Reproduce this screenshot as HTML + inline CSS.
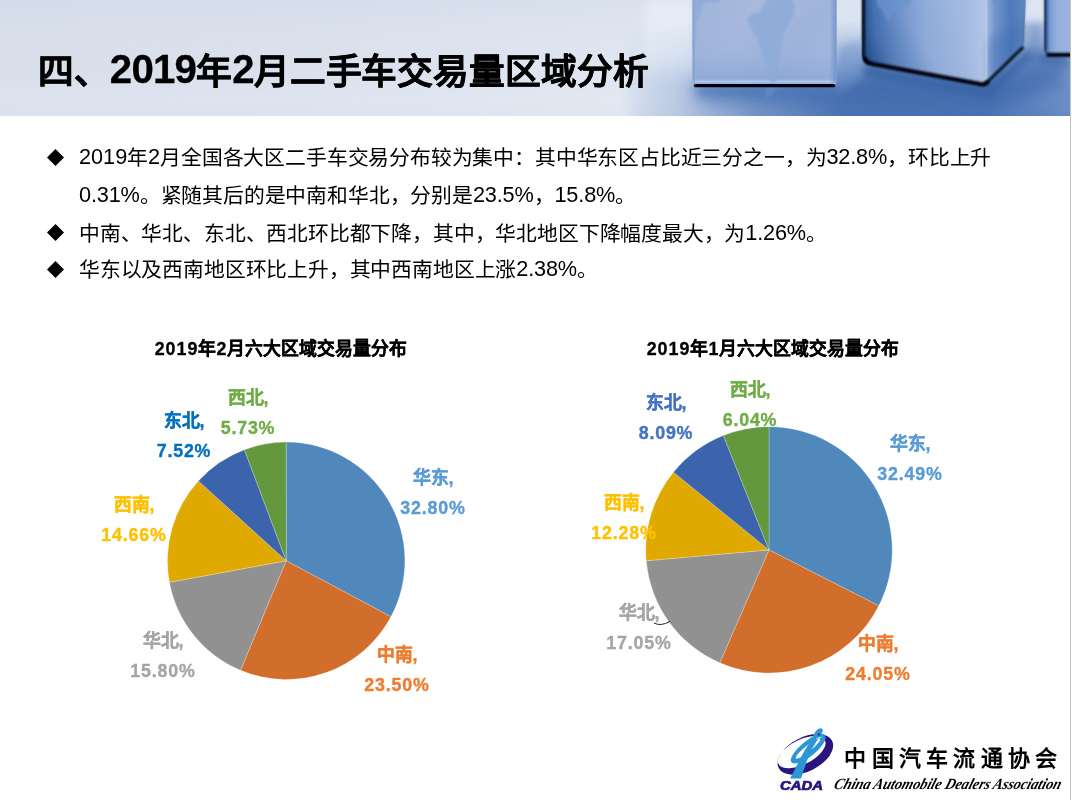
<!DOCTYPE html>
<html lang="zh-CN">
<head>
<meta charset="utf-8">
<title>四、2019年2月二手车交易量区域分析</title>
<style>
html,body{margin:0;padding:0;background:#fff;}
body{width:1072px;height:800px;position:relative;overflow:hidden;font-family:"Liberation Sans",sans-serif;color:#000;}
.abs{position:absolute;white-space:nowrap;}
.g{will-change:transform;}
#edge{left:1070px;top:0;width:1px;height:800px;background:#c3c3c3;}
#hdr{left:0;top:0;width:1070px;height:116px;overflow:hidden;}
#title{left:37.5px;top:48px;font-size:35.67px;font-weight:bold;line-height:48px;letter-spacing:-0.1px;-webkit-text-stroke:0.55px #000;}
#title b{font-size:40.2px;line-height:0;letter-spacing:-0.75px;font-weight:bold;-webkit-text-stroke:0.3px #000;position:relative;top:-1.2px;}
.bl{left:79px;font-size:20.8px;line-height:30px;letter-spacing:-0.18px;}
.bl i{font-style:normal;font-size:21.7px;line-height:0;position:relative;top:-0.7px;letter-spacing:-0.15px;}
.bl i.d{letter-spacing:0px;}
.dm{left:47px;width:17px;height:17px;}
.ct{font-size:17.83px;font-weight:bold;line-height:24px;text-align:center;width:300px;-webkit-text-stroke:0.3px #000;}
.ct b{letter-spacing:1px;}
.lb{font-size:17.83px;font-weight:bold;line-height:30.3px;text-align:center;width:140px;margin-top:0.5px;-webkit-text-stroke:0.35px currentColor;}
.lb b{letter-spacing:0.8px;}
</style>
</head>
<body>
<div id="hdr" class="abs">
<svg width="1070" height="116" viewBox="0 0 1070 115" preserveAspectRatio="none" style="display:block">
<defs>
<linearGradient id="bg" x1="0" y1="0" x2="1070" y2="0" gradientUnits="userSpaceOnUse">
<stop offset="0" stop-color="#d8dfeb"/><stop offset="0.3" stop-color="#dae1ed"/><stop offset="0.6" stop-color="#dfe6f1"/><stop offset="0.645" stop-color="#e3e9f4"/><stop offset="1" stop-color="#dde5f2"/>
</linearGradient>
<linearGradient id="bgv" x1="0" y1="0" x2="0" y2="115" gradientUnits="userSpaceOnUse">
<stop offset="0" stop-color="#cfd6e6" stop-opacity="0.35"/><stop offset="0.55" stop-color="#dfe5f0" stop-opacity="0"/><stop offset="0.85" stop-color="#ffffff" stop-opacity="0.12"/><stop offset="1" stop-color="#ffffff" stop-opacity="0.05"/>
</linearGradient>
<linearGradient id="flh" x1="620" y1="0" x2="1070" y2="0" gradientUnits="userSpaceOnUse">
<stop offset="0" stop-color="#4b74b3" stop-opacity="0"/><stop offset="0.12" stop-color="#6c8ec5" stop-opacity="0.35"/><stop offset="0.3" stop-color="#5a80bc" stop-opacity="0.8"/><stop offset="0.5" stop-color="#4871b1" stop-opacity="1"/><stop offset="0.8" stop-color="#4b74b4" stop-opacity="1"/><stop offset="1" stop-color="#668ac4" stop-opacity="1"/>
</linearGradient>
<linearGradient id="flv" x1="0" y1="20" x2="0" y2="115" gradientUnits="userSpaceOnUse">
<stop offset="0" stop-color="#fff" stop-opacity="0"/><stop offset="0.35" stop-color="#fff" stop-opacity="0.35"/><stop offset="0.7" stop-color="#fff" stop-opacity="0.9"/><stop offset="1" stop-color="#fff" stop-opacity="1"/>
</linearGradient>
<mask id="flm"><rect x="600" y="0" width="470" height="115" fill="url(#flv)"/></mask>
<linearGradient id="c1" x1="692" y1="0" x2="836" y2="83" gradientUnits="userSpaceOnUse">
<stop offset="0" stop-color="#a0b4da"/><stop offset="0.35" stop-color="#a8badd"/><stop offset="0.7" stop-color="#a1b5db"/><stop offset="1" stop-color="#abbee0"/>
</linearGradient>
<linearGradient id="c1v" x1="0" y1="0" x2="0" y2="84" gradientUnits="userSpaceOnUse">
<stop offset="0" stop-color="#86a5d6" stop-opacity="0"/><stop offset="0.6" stop-color="#86a5d6" stop-opacity="0.15"/><stop offset="0.93" stop-color="#7d9fd4" stop-opacity="0.55"/><stop offset="0.96" stop-color="#b8cbea" stop-opacity="0.8"/><stop offset="1" stop-color="#7d9fd4" stop-opacity="0.7"/>
</linearGradient>
<linearGradient id="c1r" x1="829" y1="0" x2="836.5" y2="0" gradientUnits="userSpaceOnUse"><stop offset="0" stop-color="#7294cc" stop-opacity="0"/><stop offset="1" stop-color="#6a8ec9" stop-opacity="0.85"/></linearGradient>
<linearGradient id="c2a" x1="862" y1="0" x2="988" y2="0" gradientUnits="userSpaceOnUse">
<stop offset="0" stop-color="#0e2044"/><stop offset="0.03" stop-color="#2c5596"/><stop offset="0.1" stop-color="#4c78b9"/><stop offset="0.28" stop-color="#7496cd"/><stop offset="0.5" stop-color="#93aedb"/><stop offset="0.8" stop-color="#a3b9e0"/><stop offset="1" stop-color="#b4c7e8"/>
</linearGradient>
<linearGradient id="c2av" x1="965" y1="25" x2="880" y2="78" gradientUnits="userSpaceOnUse">
<stop offset="0" stop-color="#3f6db3" stop-opacity="0"/><stop offset="0.45" stop-color="#3f6db3" stop-opacity="0.08"/><stop offset="0.8" stop-color="#35629f" stop-opacity="0.45"/><stop offset="1" stop-color="#214784" stop-opacity="0.75"/>
</linearGradient>
<linearGradient id="c2b" x1="987" y1="0" x2="1026" y2="0" gradientUnits="userSpaceOnUse">
<stop offset="0" stop-color="#9bb5dd"/><stop offset="0.2" stop-color="#7396cc"/><stop offset="0.6" stop-color="#4f7aba"/><stop offset="0.88" stop-color="#5a84c1"/><stop offset="1" stop-color="#86a5d6"/>
</linearGradient>
<linearGradient id="c3" x1="1044" y1="0" x2="1070" y2="0" gradientUnits="userSpaceOnUse">
<stop offset="0" stop-color="#1c3a6c"/><stop offset="0.1" stop-color="#3e6cb0"/><stop offset="0.25" stop-color="#7d9ed3"/><stop offset="0.5" stop-color="#94afdb"/><stop offset="1" stop-color="#9bb4dd"/>
</linearGradient>
<filter id="b1" filterUnits="userSpaceOnUse" x="-40" y="-40" width="1150" height="200"><feGaussianBlur stdDeviation="0.9"/></filter>
<filter id="b05" filterUnits="userSpaceOnUse" x="-40" y="-40" width="1150" height="200"><feGaussianBlur stdDeviation="0.55"/></filter>
<filter id="b3" filterUnits="userSpaceOnUse" x="-40" y="-40" width="1150" height="200"><feGaussianBlur stdDeviation="4"/></filter>
<filter id="b8" filterUnits="userSpaceOnUse" x="-40" y="-40" width="1150" height="200"><feGaussianBlur stdDeviation="9"/></filter>
</defs>
<rect x="0" y="0" width="1070" height="115" fill="url(#bg)"/>
<rect x="0" y="0" width="1070" height="115" fill="url(#bgv)"/>
<!-- light vertical reflections behind cube 1 -->
<rect x="645" y="0" width="46" height="70" fill="#eef3fb" opacity="0.55" filter="url(#b3)"/>
<rect x="838" y="-10" width="24" height="50" fill="#dbe4f3" opacity="0.9" filter="url(#b3)"/>
<rect x="1028" y="-12" width="15" height="40" fill="#dde6f4" opacity="0.9" filter="url(#b3)"/>
<!-- floor -->
<rect x="1026" y="22" width="19" height="40" fill="#5079b8" opacity="0.55" filter="url(#b3)"/>
<g mask="url(#flm)"><rect x="600" y="0" width="470" height="115" fill="url(#flh)"/></g>
<!-- floor shadows -->
<g filter="url(#b8)" opacity="0.75">
<polygon points="690,86 840,86 870,70 985,92 1030,52 1070,60 1070,80 990,112 850,104 700,100" fill="#3c68aa"/>
</g>
<g filter="url(#b3)" opacity="0.8">
<polygon points="838,46 862,40 866,66 845,90 836,88" fill="#6c92cb" opacity="0.7"/>
<polygon points="864,62 984,86 1026,48 1034,56 990,98 862,76" fill="#315ea3"/>
<polygon points="1040,52 1070,56 1070,66 1040,62" fill="#315ea3"/>
<polygon points="694,86 836,86 832,94 700,94" fill="#4774b7"/>
</g>
<!-- cube 1 -->
<path d="M692.5 -2H836.5V80.5Q836.5 84 833 84H696Q692.5 84 692.5 80.5Z" fill="url(#c1)"/>
<path d="M692.5 -2H836.5V80.5Q836.5 84 833 84H696Q692.5 84 692.5 80.5Z" fill="url(#c1v)"/>
<rect x="692.5" y="0" width="2.5" height="82" fill="#86a3d4" opacity="0.8"/>
<rect x="829" y="0" width="7.5" height="82" fill="url(#c1r)"/>
<!-- continents cube 1 -->
<g fill="#8eabd8" opacity="0.85" filter="url(#b1)">
<path d="M747 19L752 14 760 12 764 4 768 -2 792 -2 795 6 793 16 789 24 784 33 782 42 781 52 779 62 779 72 777 80 772 84 769 76 768 68 764 60 761 50 758 40 753 32 750 26Z"/>
<path d="M693 0L699 -2 722 -2 718 3 708 2 702 6 700 14 697 22 696 34 693 50Z"/>
</g>
<path d="M766 86L778 86 774 92 768 97 765 96Z" fill="#6a90c9" opacity="0.6" filter="url(#b1)"/>
<!-- cube1 bottom shadow -->
<path d="M695.5 84.9H833.5" stroke="#02060f" stroke-width="3.4" stroke-linecap="round" filter="url(#b05)" fill="none"/>
<!-- cube 2 -->
<path d="M862.5 -2H987.5V80L983 83.5 869 63Q862.5 61 862.5 55Z" fill="url(#c2a)"/>
<path d="M862.5 -2H987.5V80L983 83.5 869 63Q862.5 61 862.5 55Z" fill="url(#c2av)"/>
<path d="M987 -2H1026L1023.5 46 987.5 81Z" fill="url(#c2b)"/>
<path d="M987 40L1023.5 20 1023.5 46 987.5 81Z" fill="#3d6bb0" opacity="0.35" filter="url(#b3)"/>
<g fill="#6b93cc" opacity="0.8" filter="url(#b1)">
<path d="M876 -2L912 -2 910 4 902 8 898 14 894 12 890 22 886 18 882 10 878 6Z"/>
<path d="M992 -2L998 -2 996 8 993 4Z"/>
</g>
<path d="M986.5 0V78" stroke="#b9cbea" stroke-width="1.6" opacity="0.7" fill="none"/>
<path d="M863.6 0V55Q864 60.5 869.5 62.5" stroke="#040a16" stroke-width="2.6" stroke-linecap="round" stroke-linejoin="round" filter="url(#b1)" fill="none"/>
<path d="M865 58.5Q866 62 870.5 63L982 83.6Q985 84 987.5 81.6" stroke="#02060f" stroke-width="4.2" stroke-linecap="round" stroke-linejoin="round" filter="url(#b1)" fill="none"/>
<path d="M986 82.5L1022.5 47.5" stroke="#050c1a" stroke-width="3" stroke-linecap="round" filter="url(#b1)" fill="none"/>
<path d="M863.2 -2V40" stroke="#0c1c3a" stroke-width="1.6" filter="url(#b1)" fill="none" opacity="0.7"/>
<path d="M1024.5 0L1023.6 44" stroke="#1d3b70" stroke-width="1.4" filter="url(#b1)" fill="none" opacity="0.5"/>
<!-- cube 3 -->
<path d="M1044.5 -2H1072V53.5H1048Q1044.5 53.5 1044.5 50Z" fill="url(#c3)"/>
<path d="M1046.5 54.4H1072" stroke="#02060f" stroke-width="4" filter="url(#b1)" fill="none"/>
<path d="M1045 -2V50" stroke="#0a1830" stroke-width="1.6" filter="url(#b1)" fill="none" opacity="0.8"/>
</svg>
</div>
<div id="edge" class="abs"></div>
<div id="title" class="abs g">四、<b>2019</b>年<b>2</b>月二手车交易量区域分析</div>

<svg class="abs dm" style="top:149px" viewBox="0 0 17 17"><path d="M8.5 0L17 8.5 8.5 17 0 8.5Z" fill="#000"/></svg>
<div class="abs bl g" style="top:143.3px"><i class="d">2019</i>年<i class="d">2</i>月全国各大区二手车交易分布较为集中：其中华东区占比近三分之一，为<i>32.8%</i>，环比上升</div>
<div class="abs bl g" style="top:181.0px"><i>0.31%</i>。紧随其后的是中南和华北，分别是<i>23.5%</i>，<i>15.8%</i>。</div>
<svg class="abs dm" style="top:224px" viewBox="0 0 17 17"><path d="M8.5 0L17 8.5 8.5 17 0 8.5Z" fill="#000"/></svg>
<div class="abs bl g" style="top:218.6px">中南、华北、东北、西北环比都下降，其中，华北地区下降幅度最大，为<i>1.26%</i>。</div>
<svg class="abs dm" style="top:261px" viewBox="0 0 17 17"><path d="M8.5 0L17 8.5 8.5 17 0 8.5Z" fill="#000"/></svg>
<div class="abs bl g" style="top:255.3px">华东以及西南地区环比上升，其中西南地区上涨<i>2.38%</i>。</div>

<div class="abs ct g" style="left:131px;top:337px"><b>2019</b>年<b>2</b>月六大区域交易量分布</div>
<div class="abs ct g" style="left:623px;top:337px"><b>2019</b>年<b>1</b>月六大区域交易量分布</div>

<svg class="abs" style="left:0;top:300px" width="1070" height="420" viewBox="0 300 1070 420">
<g id="pie1" stroke="#ffffff" stroke-opacity="0.38" stroke-width="0.6" stroke-linejoin="round">
<path d="M286.2 560.8L286.20 442.10A118.7 118.7 0 0 1 390.94 616.65Z" fill="#5088bb"/>
<path d="M286.2 560.8L390.94 616.65A118.7 118.7 0 0 1 240.47 670.34Z" fill="#d16e2b"/>
<path d="M286.2 560.8L240.47 670.34A118.7 118.7 0 0 1 169.47 582.36Z" fill="#919191"/>
<path d="M286.2 560.8L169.47 582.36A118.7 118.7 0 0 1 198.41 480.91Z" fill="#e0a900"/>
<path d="M286.2 560.8L198.41 480.91A118.7 118.7 0 0 1 244.39 449.71Z" fill="#3c64ac"/>
<path d="M286.2 560.8L244.39 449.71A118.7 118.7 0 0 1 286.20 442.10Z" fill="#63983e"/>
</g>
<g id="pie2" stroke="#ffffff" stroke-opacity="0.38" stroke-width="0.6" stroke-linejoin="round">
<path d="M769.0 549.9L769.00 426.70A123.2 123.2 0 0 1 878.81 605.76Z" fill="#5088bb"/>
<path d="M769.0 549.9L878.81 605.76A123.2 123.2 0 0 1 719.79 662.84Z" fill="#d16e2b"/>
<path d="M769.0 549.9L719.79 662.84A123.2 123.2 0 0 1 646.28 560.80Z" fill="#919191"/>
<path d="M769.0 549.9L646.28 560.80A123.2 123.2 0 0 1 673.43 472.15Z" fill="#e0a900"/>
<path d="M769.0 549.9L673.43 472.15A123.2 123.2 0 0 1 723.36 435.47Z" fill="#3c64ac"/>
<path d="M769.0 549.9L723.36 435.47A123.2 123.2 0 0 1 769.00 426.70Z" fill="#63983e"/>
</g>
</svg>
<div class="abs lb g" style="left:178.0px;top:382.2px;color:#70ad47">西北,<br><b>5.73%</b></div>
<div class="abs lb g" style="left:113.5px;top:405.2px;color:#0070c0">东北,<br><b>7.52%</b></div>
<div class="abs lb g" style="left:362.7px;top:462.2px;color:#5b9bd5">华东,<br><b>32.80%</b></div>
<div class="abs lb g" style="left:64.0px;top:489.4px;color:#ffc000">西南,<br><b>14.66%</b></div>
<div class="abs lb g" style="left:92.6px;top:625.9px;color:#a5a5a5">华北,<br><b>15.80%</b></div>
<div class="abs lb g" style="left:326.7px;top:639.0px;color:#ed7d31">中南,<br><b>23.50%</b></div>
<div class="abs lb g" style="left:680.0px;top:374.9px;color:#70ad47">西北,<br><b>6.04%</b></div>
<div class="abs lb g" style="left:595.7px;top:387.2px;color:#4472c4">东北,<br><b>8.09%</b></div>
<div class="abs lb g" style="left:839.5px;top:428.7px;color:#5b9bd5">华东,<br><b>32.49%</b></div>
<div class="abs lb g" style="left:554.3px;top:487.5px;color:#ffc000">西南,<br><b>12.28%</b></div>
<div class="abs lb g" style="left:568.5px;top:597.2px;color:#a5a5a5">华北,<br><b>17.05%</b></div>
<div class="abs lb g" style="left:807.5px;top:628.0px;color:#ed7d31">中南,<br><b>24.05%</b></div>
<svg class="abs" style="left:640px;top:600px" width="50" height="40" viewBox="640 600 50 40"><path d="M653.8 622.9Q660.5 626.8 670 621.4" stroke="#222" stroke-width="1" fill="none"/></svg>
<svg class="abs g" style="left:760px;top:720px" width="310" height="80" viewBox="760 720 310 80">
<g transform="translate(805.4 754.3) rotate(-27)">
<path fill="#2a1480" fill-rule="evenodd" d="M-30 0A30 17 0 1 0 30 0A30 17 0 1 0 -30 0ZM-28.3 -3.6A26 12.2 0 1 1 23.7 -3.6A26 12.2 0 1 1 -28.3 -3.6Z"/>
</g>
<g fill="#2b95d6">
<g transform="translate(808.2 748.8) rotate(-39)"><path fill-rule="evenodd" d="M-21.5 0A21.5 7.6 0 1 0 21.5 0A21.5 7.6 0 1 0 -21.5 0ZM-15.5 -0.3A15.5 3.1 0 1 1 15.5 -0.3A15.5 3.1 0 1 1 -15.5 -0.3Z"/></g>
<path d="M790.1 778.6L801 778.6 807 760.5 812 749 818.5 738Q824 731.5 822.6 729.2Q820 726.6 815.6 731.2L810.5 741 804 751.5 797.5 764Z"/>
</g>
<circle cx="818.8" cy="734.6" r="1.1" fill="#2a1480"/>
<path d="M816.5 738.5L821.5 737.2" stroke="#e8f4fb" stroke-width="0.8"/>
<text x="780" y="789.8" font-family="'Liberation Sans',sans-serif" font-weight="bold" font-style="italic" font-size="12.6" fill="#2a1480" stroke="#2a1480" stroke-width="0.7" textLength="43" lengthAdjust="spacingAndGlyphs">CADA</text>
<text x="844.3" y="766" font-family="'Liberation Serif',serif" font-weight="bold" font-size="22" fill="#000" textLength="213" lengthAdjust="spacing">中国汽车流通协会</text>
<g transform="translate(833 788.6) skewX(-18)"><text x="0" y="0" font-family="'Liberation Serif',serif" font-style="italic" font-weight="bold" font-size="15.6" fill="#000" textLength="227" lengthAdjust="spacingAndGlyphs">China Automobile Dealers Association</text></g>
</svg>
</body>
</html>
